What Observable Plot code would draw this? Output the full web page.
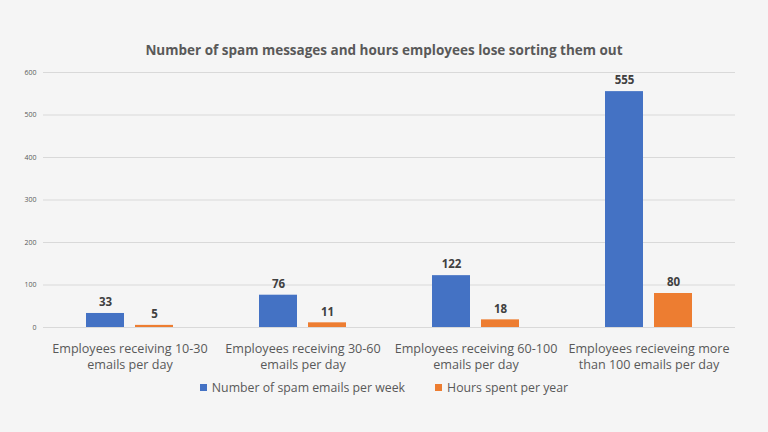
<!DOCTYPE html>
<html><head>
<meta charset="utf-8">
<script src="https://cdn.jsdelivr.net/npm/d3@7"></script>
<script src="https://cdn.jsdelivr.net/npm/@observablehq/plot@0.6"></script>
<style>
html,body{margin:0;padding:0;background:#f5f5f5;}
body{width:768px;height:432px;overflow:hidden;font-family:"Open Sans",sans-serif;}
#title{height:62px;box-sizing:border-box;padding-top:40px;text-align:center;font-weight:bold;font-size:13.5px;color:#595959;line-height:20px;}
#chart svg{display:block;}
#legend{height:26px;line-height:26px;display:flex;justify-content:center;align-items:center;font-size:12.3px;color:#595959;gap:30px;}
#legend span.sw{display:inline-block;width:7px;height:7px;margin-right:5px;vertical-align:middle;position:relative;top:-1px;}
</style></head><body>
<div id="title">Number of spam messages and hours employees lose sorting them out</div>
<div id="chart"></div>
<div id="legend"></div>
<script>
const categories = [
  "Employees receiving 10-30\nemails per day",
  "Employees receiving 30-60\nemails per day",
  "Employees receiving 60-100\nemails per day",
  "Employees recieveing more\nthan 100 emails per day"
];
const series = ["Number of spam emails per week", "Hours spent per year"];
const spamPerWeek = [33, 76, 122, 555];
const hoursPerYear = [5, 11, 18, 80];
const yTicks = [0, 100, 200, 300, 400, 500, 600];
const colors = ["#4472C4", "#ED7D31"];

const data = categories.flatMap((c, i) => [
  {category: c, series: series[0], value: spamPerWeek[i]},
  {category: c, series: series[1], value: hoursPerYear[i]}
]);

const chart = Plot.plot({
  width: 768,
  height: 313,
  marginTop: 10,
  marginLeft: 42,
  marginRight: 32,
  marginBottom: 48,
  style: {background: "transparent", fontFamily: "Open Sans, sans-serif", color: "#595959"},
  fx: {domain: categories, padding: 0, label: null},
  x: {domain: series, paddingInner: 0.22, paddingOuter: 0.845, axis: null},
  y: {domain: [0, 600], label: null},
  color: {domain: series, range: colors},
  marks: [
    Plot.gridY(yTicks, {stroke: "#d9d9d9", strokeOpacity: 1}),
    Plot.axisY(yTicks, {tickSize: 0, tickPadding: 7, fontSize: 7, fill: "#595959", label: null}),
    Plot.barY(data, {fx: "category", x: "series", y: "value", fill: "series"}),
    Plot.text(data, {fx: "category", x: "series", y: "value", text: "value", dy: -11, fontWeight: "bold", fontSize: 11.5, fill: "#404040"}),
    Plot.axisFx({anchor: "bottom", tickSize: 0, tickPadding: 14, fontSize: 12.6, lineHeight: 1.27, fill: "#595959", label: null})
  ]
});
document.getElementById("chart").appendChild(chart);

const legend = document.getElementById("legend");
series.forEach((s, i) => {
  const item = document.createElement("div");
  const sw = document.createElement("span");
  sw.className = "sw";
  sw.style.background = colors[i];
  item.appendChild(sw);
  item.appendChild(document.createTextNode(s));
  legend.appendChild(item);
});
</script>
</body></html>
